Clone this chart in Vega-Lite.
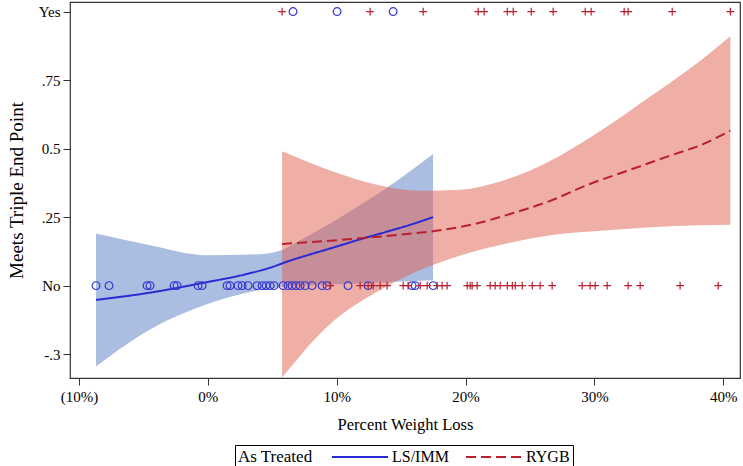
{
  "$schema": "https://vega.github.io/schema/vega-lite/v6.json",
  "width": 670,
  "height": 376,
  "autosize": "none",
  "padding": {"left": 70, "top": 2, "right": 3, "bottom": 88},
  "background": "white",
  "config": {
    "font": "Liberation Serif",
    "view": {"stroke": "#333", "strokeWidth": 1.2},
    "axis": {"labelFont": "Liberation Serif", "titleFont": "Liberation Serif", "labelColor": "black", "titleColor": "black", "tickColor": "#333", "domain": false, "grid": false, "labelFontSize": 15, "titleFontSize": 16.5, "titleFontWeight": "normal", "tickSize": 7},
    "legend": {"labelFont": "Liberation Serif", "titleFont": "Liberation Serif", "labelFontSize": 16, "titleFontSize": 17, "titleFontWeight": "normal", "labelColor": "black", "titleColor": "black"}
  },
  "datasets": {
    "bands": [
      {"group": "LS/IMM", "x": -8.68, "lo": -0.295, "hi": 0.19},
      {"group": "LS/IMM", "x": -4.49, "lo": -0.16, "hi": 0.147},
      {"group": "LS/IMM", "x": -0.2, "lo": -0.07, "hi": 0.111},
      {"group": "LS/IMM", "x": 4.05, "lo": -0.016, "hi": 0.115},
      {"group": "LS/IMM", "x": 5.76, "lo": -0.005, "hi": 0.13},
      {"group": "LS/IMM", "x": 7.16, "lo": 0.0, "hi": 0.166},
      {"group": "LS/IMM", "x": 10.3, "lo": 0.005, "hi": 0.25},
      {"group": "LS/IMM", "x": 14.9, "lo": 0.015, "hi": 0.39},
      {"group": "LS/IMM", "x": 17.48, "lo": 0.02, "hi": 0.48},
      {"group": "RYGB", "x": 5.76, "lo": -0.335, "hi": 0.49},
      {"group": "RYGB", "x": 9.49, "lo": -0.14, "hi": 0.42},
      {"group": "RYGB", "x": 13.37, "lo": -0.016, "hi": 0.365},
      {"group": "RYGB", "x": 16.48, "lo": 0.057, "hi": 0.346},
      {"group": "RYGB", "x": 19.6, "lo": 0.11, "hi": 0.35},
      {"group": "RYGB", "x": 22.69, "lo": 0.148, "hi": 0.38},
      {"group": "RYGB", "x": 26.56, "lo": 0.184, "hi": 0.455},
      {"group": "RYGB", "x": 30.45, "lo": 0.2, "hi": 0.564},
      {"group": "RYGB", "x": 34.33, "lo": 0.213, "hi": 0.69},
      {"group": "RYGB", "x": 38.2, "lo": 0.22, "hi": 0.82},
      {"group": "RYGB", "x": 40.55, "lo": 0.222, "hi": 0.91}
    ],
    "fit": [
      {"group": "LS/IMM", "x": -8.68, "y": -0.052},
      {"group": "LS/IMM", "x": -5.1, "y": -0.03},
      {"group": "LS/IMM", "x": -0.15, "y": 0.012},
      {"group": "LS/IMM", "x": 2.8, "y": 0.04},
      {"group": "LS/IMM", "x": 4.8, "y": 0.065},
      {"group": "LS/IMM", "x": 6.3, "y": 0.09},
      {"group": "LS/IMM", "x": 7.8, "y": 0.112},
      {"group": "LS/IMM", "x": 9.8, "y": 0.14},
      {"group": "LS/IMM", "x": 11.75, "y": 0.168},
      {"group": "LS/IMM", "x": 13.75, "y": 0.195},
      {"group": "LS/IMM", "x": 15.7, "y": 0.222},
      {"group": "LS/IMM", "x": 17.48, "y": 0.25},
      {"group": "RYGB", "x": 5.76, "y": 0.152},
      {"group": "RYGB", "x": 9.8, "y": 0.165},
      {"group": "RYGB", "x": 14.7, "y": 0.185},
      {"group": "RYGB", "x": 17.7, "y": 0.2},
      {"group": "RYGB", "x": 20.7, "y": 0.225},
      {"group": "RYGB", "x": 23.7, "y": 0.265},
      {"group": "RYGB", "x": 26.6, "y": 0.31},
      {"group": "RYGB", "x": 29.6, "y": 0.37},
      {"group": "RYGB", "x": 32.6, "y": 0.42},
      {"group": "RYGB", "x": 35.6, "y": 0.47},
      {"group": "RYGB", "x": 38.6, "y": 0.52},
      {"group": "RYGB", "x": 40.55, "y": 0.566}
    ],
    "pts": [
      {"group": "LS/IMM", "x": -8.68, "met": 0}, {"group": "LS/IMM", "x": -7.67, "met": 0},
      {"group": "LS/IMM", "x": -4.72, "met": 0}, {"group": "LS/IMM", "x": -4.49, "met": 0},
      {"group": "LS/IMM", "x": -2.62, "met": 0}, {"group": "LS/IMM", "x": -2.39, "met": 0},
      {"group": "LS/IMM", "x": -0.76, "met": 0}, {"group": "LS/IMM", "x": -0.45, "met": 0},
      {"group": "LS/IMM", "x": 1.49, "met": 0}, {"group": "LS/IMM", "x": 1.72, "met": 0},
      {"group": "LS/IMM", "x": 2.34, "met": 0}, {"group": "LS/IMM", "x": 2.66, "met": 0},
      {"group": "LS/IMM", "x": 3.12, "met": 0}, {"group": "LS/IMM", "x": 3.82, "met": 0},
      {"group": "LS/IMM", "x": 4.21, "met": 0}, {"group": "LS/IMM", "x": 4.52, "met": 0},
      {"group": "LS/IMM", "x": 4.83, "met": 0}, {"group": "LS/IMM", "x": 5.14, "met": 0},
      {"group": "LS/IMM", "x": 5.84, "met": 0}, {"group": "LS/IMM", "x": 6.23, "met": 0},
      {"group": "LS/IMM", "x": 6.54, "met": 0}, {"group": "LS/IMM", "x": 6.85, "met": 0},
      {"group": "LS/IMM", "x": 7.16, "met": 0}, {"group": "LS/IMM", "x": 7.55, "met": 0},
      {"group": "LS/IMM", "x": 8.09, "met": 0}, {"group": "LS/IMM", "x": 8.87, "met": 0},
      {"group": "LS/IMM", "x": 9.25, "met": 0}, {"group": "LS/IMM", "x": 10.88, "met": 0},
      {"group": "LS/IMM", "x": 12.44, "met": 0}, {"group": "LS/IMM", "x": 15.85, "met": 0},
      {"group": "LS/IMM", "x": 16.09, "met": 0}, {"group": "LS/IMM", "x": 17.48, "met": 0},
      {"group": "LS/IMM", "x": 6.61, "met": 1}, {"group": "LS/IMM", "x": 10.03, "met": 1},
      {"group": "LS/IMM", "x": 14.38, "met": 1},
      {"group": "RYGB", "x": 9.49, "met": 0}, {"group": "RYGB", "x": 11.82, "met": 0},
      {"group": "RYGB", "x": 12.44, "met": 0}, {"group": "RYGB", "x": 12.83, "met": 0},
      {"group": "RYGB", "x": 13.37, "met": 0}, {"group": "RYGB", "x": 13.91, "met": 0},
      {"group": "RYGB", "x": 15.16, "met": 0}, {"group": "RYGB", "x": 15.54, "met": 0},
      {"group": "RYGB", "x": 16.48, "met": 0}, {"group": "RYGB", "x": 17.02, "met": 0},
      {"group": "RYGB", "x": 17.8, "met": 0}, {"group": "RYGB", "x": 18.18, "met": 0},
      {"group": "RYGB", "x": 18.57, "met": 0}, {"group": "RYGB", "x": 20.13, "met": 0},
      {"group": "RYGB", "x": 20.36, "met": 0}, {"group": "RYGB", "x": 20.51, "met": 0},
      {"group": "RYGB", "x": 20.9, "met": 0}, {"group": "RYGB", "x": 21.91, "met": 0},
      {"group": "RYGB", "x": 22.3, "met": 0}, {"group": "RYGB", "x": 22.69, "met": 0},
      {"group": "RYGB", "x": 23.24, "met": 0}, {"group": "RYGB", "x": 23.63, "met": 0},
      {"group": "RYGB", "x": 23.86, "met": 0}, {"group": "RYGB", "x": 24.4, "met": 0},
      {"group": "RYGB", "x": 25.18, "met": 0}, {"group": "RYGB", "x": 25.79, "met": 0},
      {"group": "RYGB", "x": 26.72, "met": 0}, {"group": "RYGB", "x": 29.05, "met": 0},
      {"group": "RYGB", "x": 29.67, "met": 0}, {"group": "RYGB", "x": 30.06, "met": 0},
      {"group": "RYGB", "x": 30.99, "met": 0}, {"group": "RYGB", "x": 32.62, "met": 0},
      {"group": "RYGB", "x": 33.55, "met": 0}, {"group": "RYGB", "x": 36.65, "met": 0},
      {"group": "RYGB", "x": 39.61, "met": 0},
      {"group": "RYGB", "x": 5.76, "met": 1}, {"group": "RYGB", "x": 12.59, "met": 1},
      {"group": "RYGB", "x": 16.71, "met": 1}, {"group": "RYGB", "x": 20.98, "met": 1},
      {"group": "RYGB", "x": 21.44, "met": 1}, {"group": "RYGB", "x": 23.24, "met": 1},
      {"group": "RYGB", "x": 23.7, "met": 1}, {"group": "RYGB", "x": 25.1, "met": 1},
      {"group": "RYGB", "x": 26.8, "met": 1}, {"group": "RYGB", "x": 29.29, "met": 1},
      {"group": "RYGB", "x": 29.75, "met": 1}, {"group": "RYGB", "x": 32.31, "met": 1},
      {"group": "RYGB", "x": 32.62, "met": 1}, {"group": "RYGB", "x": 36.04, "met": 1},
      {"group": "RYGB", "x": 40.55, "met": 1}
    ]
  },
  "layer": [
    {
      "data": {"name": "bands"},
      "transform": [{"filter": "datum.group == 'LS/IMM'"}],
      "mark": {"type": "area", "interpolate": "monotone", "color": "#5a7cc6", "fillOpacity": 0.5},
      "encoding": {
        "x": {"field": "x", "type": "quantitative", "scale": {"domain": [-10.7, 41.3], "nice": false, "zero": false},
          "axis": {"values": [-10, 0, 10, 20, 30, 40], "labelExpr": "datum.value < 0 ? '(' + abs(datum.value) + '%)' : datum.value + '%'", "title": "Percent Weight Loss", "labelPadding": 4, "titlePadding": 12}},
        "y": {"field": "hi", "type": "quantitative", "scale": {"domain": [-0.337, 1.035], "nice": false, "zero": false},
          "axis": {"values": [-0.25, 0, 0.25, 0.5, 0.75, 1], "labelExpr": "datum.value == 1 ? 'Yes' : datum.value == 0.75 ? '.75' : datum.value == 0.5 ? '0.5' : datum.value == 0.25 ? '.25' : datum.value == 0 ? 'No' : '-.3'", "title": "Meets Triple End Point", "titleFontSize": 19, "labelPadding": 3, "titlePadding": 12}},
        "y2": {"field": "lo"}
      }
    },
    {
      "data": {"name": "bands"},
      "transform": [{"filter": "datum.group == 'RYGB'"}],
      "mark": {"type": "area", "interpolate": "monotone", "color": "#e0604e", "fillOpacity": 0.5},
      "encoding": {
        "x": {"field": "x", "type": "quantitative"},
        "y": {"field": "hi", "type": "quantitative"},
        "y2": {"field": "lo"}
      }
    },
    {
      "data": {"name": "fit"},
      "mark": {"type": "line", "interpolate": "monotone", "strokeWidth": 2},
      "encoding": {
        "x": {"field": "x", "type": "quantitative"},
        "y": {"field": "y", "type": "quantitative"},
        "color": {"field": "group", "type": "nominal", "title": "As Treated", "scale": {"domain": ["LS/IMM", "RYGB"], "range": ["#2a2ad4", "#b8202f"]},
          "legend": {"orient": "none", "legendX": 165, "legendY": 443, "direction": "horizontal", "titleOrient": "left", "titleBaseline": "middle", "strokeColor": "black", "padding": 3, "symbolType": "M-3.5,0H3.5", "symbolSize": 256, "symbolStrokeWidth": 2, "columnPadding": 13, "titlePadding": 38, "labelOffset": 23}},
        "strokeDash": {"field": "group", "type": "nominal", "title": "As Treated", "scale": {"domain": ["LS/IMM", "RYGB"], "range": [[1, 0], [10, 5]]}}
      }
    },
    {
      "data": {"name": "pts"},
      "transform": [{"filter": "datum.group == 'LS/IMM'"}],
      "mark": {"type": "point", "filled": false, "shape": "circle", "color": "#3535d0", "size": 60, "strokeWidth": 1.2, "opacity": 1},
      "encoding": {
        "x": {"field": "x", "type": "quantitative"},
        "y": {"field": "met", "type": "quantitative"}
      }
    },
    {
      "data": {"name": "pts"},
      "transform": [{"filter": "datum.group == 'RYGB'"}],
      "mark": {"type": "point", "filled": false, "shape": "M-1,0H1M0,-1V1", "color": "#b8202f", "size": 60, "strokeWidth": 1.2, "opacity": 1},
      "encoding": {
        "x": {"field": "x", "type": "quantitative"},
        "y": {"field": "met", "type": "quantitative"}
      }
    }
  ]
}
